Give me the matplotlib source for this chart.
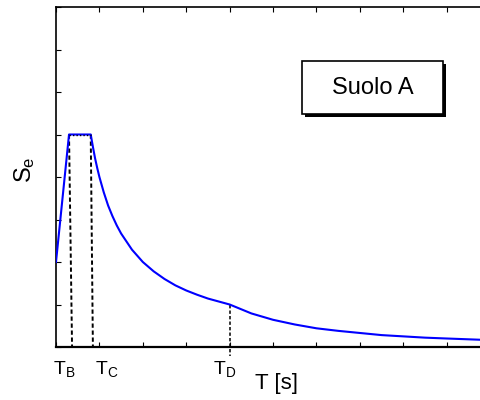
import matplotlib
matplotlib.use("Agg")
import matplotlib.pyplot as plt
from matplotlib.patches import Rectangle

plt.rcParams['font.family'] = ['Liberation Sans', 'DejaVu Sans']
plt.rcParams['mathtext.fontset'] = 'custom'
plt.rcParams['mathtext.rm'] = 'Liberation Sans'
plt.rcParams['mathtext.it'] = 'Liberation Sans'

# Spectrum points (T in tick units, Se in tick units)
T_vals = [0.0, 0.3, 0.8, 0.85, 0.9, 0.95, 1.0, 1.1, 1.2, 1.3, 1.4, 1.5, 1.75, 2.0, 2.25, 2.5, 2.75,
          3.0, 3.25, 3.5, 3.75, 4.0, 4.5, 5.0, 5.5, 6.0, 6.5, 7.0, 7.5, 8.0, 8.5,
          9.0, 9.79]
Se_vals = [2.0, 5.0, 5.0, 4.71, 4.44, 4.21, 4.0, 3.64, 3.33, 3.08, 2.86, 2.67, 2.29, 2.0, 1.78, 1.6, 1.45,
           1.33, 1.23, 1.14, 1.07, 1.0, 0.79, 0.64, 0.53, 0.44, 0.38, 0.33, 0.28, 0.25, 0.22,
           0.20, 0.17]

# Corner periods (dashed marker lines: top point, bottom point)
TB_line = ([0.30, 0.37], [5.0, 0.0])
TC_line = ([0.80, 0.85], [5.0, 0.0])
TD_line = ([4.0, 4.0], [1.0, -0.22])
plateau = ([0.30, 0.80], [5.0, 5.0])

x_ticks = list(range(0, 10))
y_ticks = list(range(0, 9))

fig = plt.figure(figsize=(4.81, 4.00), dpi=100)
ax = fig.add_axes([56/481, 53/400, 425/481, 340/400])
ax.set_xlim(0, 9.79)
ax.set_ylim(0, 8)

ax.plot(T_vals, Se_vals, color='#0000ff', lw=1.5, zorder=3)
for xs, ys in (TB_line, TC_line):
    ax.plot(xs, ys, color='black', lw=1.4, ls=(0, (2.2, 1.4)), zorder=2)
ax.plot(*TD_line, color='black', lw=1.1, ls=(0, (2.2, 1.4)), zorder=2, clip_on=False)
ax.plot(*plateau, color='black', lw=1.0, ls=(0, (1, 1.5)), zorder=4)

ax.set_xticks(x_ticks)
ax.set_yticks(y_ticks)
ax.tick_params(direction='in', length=3.5, width=0.8, top=True, right=False,
               labelbottom=False, labelleft=False)
ax.spines['right'].set_visible(False)
for s in ('left', 'top'):
    ax.spines[s].set_linewidth(1.2)
ax.spines['bottom'].set_linewidth(1.6)

# Label box with shadow
bx, by, bw, bh = 0.579, 0.685, 0.332, 0.156
ax.add_patch(Rectangle((bx + 0.007, by - 0.009), bw, bh, transform=ax.transAxes,
                       facecolor='black', edgecolor='black', lw=0, zorder=5))
ax.add_patch(Rectangle((bx, by), bw, bh, transform=ax.transAxes,
                       facecolor='white', edgecolor='black', lw=1.2, zorder=6))
ax.text(bx + bw/2, by + bh/2, 'Suolo A', transform=ax.transAxes, ha='center',
        va='center', fontsize=17, zorder=7)

# Axis labels
def px(x, y):
    return x/481, 1 - y/400

fig.text(*px(53, 374), r'T$_\mathregular{B}$', fontsize=14, ha='left', va='baseline')
fig.text(*px(95, 374), r'T$_\mathregular{C}$', fontsize=14, ha='left', va='baseline')
fig.text(*px(213, 374), r'T$_\mathregular{D}$', fontsize=14, ha='left', va='baseline')
fig.text(*px(255, 389), 'T [s]', fontsize=16, ha='left', va='baseline')
fig.text(*px(25, 170), r'S$_\mathregular{e}$', fontsize=17, rotation=90,
         ha='center', va='center')

fig.savefig('out.png', dpi=100)
